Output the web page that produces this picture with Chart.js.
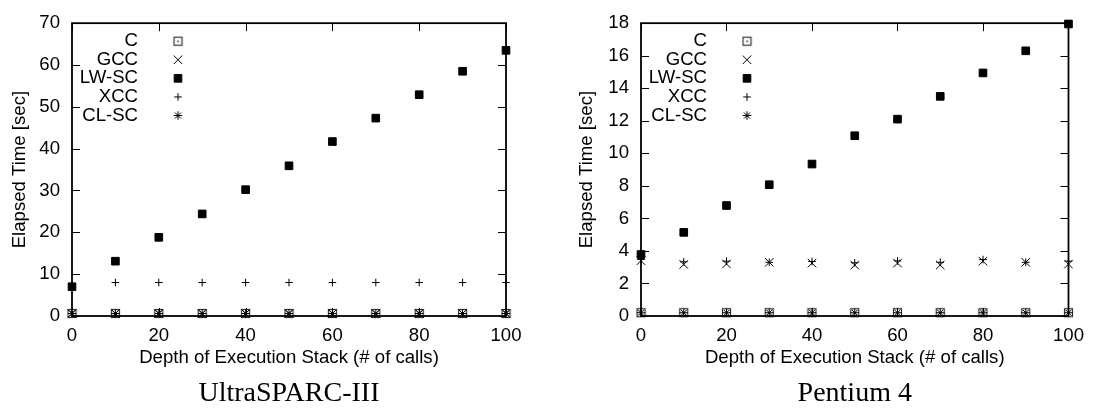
<!DOCTYPE html>
<html><head><meta charset="utf-8">
<script src="https://cdn.jsdelivr.net/npm/chart.js@4/dist/chart.umd.min.js"></script>
<style>
html,body{margin:0;padding:0;background:#fff;}
#wrap{position:relative;width:1093px;height:415px;overflow:hidden;}
#c1{position:absolute;left:0;top:0;}
#c2{position:absolute;left:547px;top:0;}
</style></head><body>
<div id="wrap"><canvas id="c1" width="546" height="415"></canvas><canvas id="c2" width="546" height="415"></canvas></div>
<script>
// ---- data ----
const depths = [0, 10, 20, 30, 40, 50, 60, 70, 80, 90, 100];
const seriesNames = ['C', 'GCC', 'LW-SC', 'XCC', 'CL-SC'];
const xTickStep = 20;

// UltraSPARC-III
const sparcTitle = 'UltraSPARC-III';
const sparcYMax = 70, sparcYStep = 10;
const sparcC    = [0.6, 0.6, 0.6, 0.6, 0.6, 0.6, 0.6, 0.6, 0.6, 0.6, 0.6];
const sparcGCC  = [0.6, 0.6, 0.6, 0.6, 0.6, 0.6, 0.6, 0.6, 0.6, 0.6, 0.6];
const sparcLWSC = [7.0, 13.1, 18.8, 24.4, 30.2, 35.9, 41.7, 47.3, 52.9, 58.5, 63.5];
const sparcXCC  = [7.0, 8.0, 8.0, 8.0, 8.0, 8.0, 8.0, 8.0, 8.0, 8.0, 8.0];
const sparcCLSC = [0.6, 0.6, 0.6, 0.6, 0.6, 0.6, 0.6, 0.6, 0.6, 0.6, 0.6];

// Pentium 4
const p4Title = 'Pentium 4';
const p4YMax = 18, p4YStep = 2;
const p4C    = [0.2, 0.2, 0.2, 0.2, 0.2, 0.2, 0.2, 0.2, 0.2, 0.2, 0.2];
const p4GCC  = [3.4, 3.17, 3.2, 3.3, 3.25, 3.13, 3.25, 3.13, 3.37, 3.3, 3.19];
const p4LWSC = [3.78, 5.14, 6.79, 8.07, 9.34, 11.08, 12.1, 13.5, 14.94, 16.3, 17.95];
const p4XCC  = [3.47, 3.33, 3.37, 3.3, 3.35, 3.27, 3.39, 3.3, 3.47, 3.3, 3.37];
const p4CLSC = [0.2, 0.2, 0.2, 0.2, 0.2, 0.2, 0.2, 0.2, 0.2, 0.2, 0.2];

// ---- styles ----
const SANS = '"Liberation Sans", Arial, sans-serif';
const SERIF = '"Liberation Serif", "Times New Roman", serif';
const FS = 18.6;

function makeBoxDot() {
  const c = document.createElement('canvas');
  c.width = 11; c.height = 11;
  const g = c.getContext('2d');
  g.strokeStyle = '#333'; g.lineWidth = 1.2;
  g.strokeRect(1.5, 1.5, 8, 8);
  g.fillStyle = '#222';
  g.fillRect(4.8, 4.8, 1.6, 1.6);
  return c;
}
const boxDot = makeBoxDot();

const markerStyles = [
  {pointStyle: boxDot, radius: 5, borderWidth: 1, bg: 'rgba(0,0,0,0)'},
  {pointStyle: 'crossRot', radius: 6, borderWidth: 1, bg: 'rgba(0,0,0,0)'},
  {pointStyle: 'rect', radius: 5.4, borderWidth: 1, bg: '#000'},
  {pointStyle: 'cross', radius: 3.8, borderWidth: 1, bg: 'rgba(0,0,0,0)'},
  {pointStyle: 'star', radius: 4.3, borderWidth: 1, bg: 'rgba(0,0,0,0)'}
];

function drawMarker(ctx, st, x, y) {
  if (typeof st.pointStyle !== 'string') {
    ctx.drawImage(st.pointStyle, x - st.pointStyle.width / 2, y - st.pointStyle.height / 2);
    return;
  }
  ctx.save();
  ctx.strokeStyle = '#000'; ctx.fillStyle = st.bg; ctx.lineWidth = st.borderWidth;
  if (Chart.helpers && Chart.helpers.drawPoint) {
    Chart.helpers.drawPoint(ctx, {pointStyle: st.pointStyle, radius: st.radius, borderWidth: st.borderWidth, rotation: 0}, x, y);
  }
  ctx.restore();
}

const framePlugin = {
  id: 'frameTicks',
  afterDraw(chart) {
    const {ctx, chartArea: a, scales} = chart;
    ctx.save();
    ctx.strokeStyle = '#000';
    ctx.lineWidth = 1;
    const TL = 8;
    ctx.beginPath();
    scales.x.ticks.forEach(t => {
      const px = Math.round(scales.x.getPixelForValue(t.value)) + 0.5;
      ctx.moveTo(px, a.bottom); ctx.lineTo(px, a.bottom - TL);
      ctx.moveTo(px, a.top); ctx.lineTo(px, a.top + TL);
    });
    scales.y.ticks.forEach(t => {
      const py = Math.round(scales.y.getPixelForValue(t.value)) + 0.5;
      ctx.moveTo(a.left, py); ctx.lineTo(a.left + TL, py);
      ctx.moveTo(a.right, py); ctx.lineTo(a.right - TL, py);
    });
    ctx.stroke();
    ctx.lineWidth = 1.8;
    ctx.strokeRect(a.left, a.top, a.right - a.left, a.bottom - a.top);
    // legend (gnuplot style: right-aligned label, marker to the right)
    ctx.font = FS + 'px ' + SANS;
    ctx.fillStyle = '#000';
    ctx.textAlign = 'right';
    ctx.textBaseline = 'middle';
    chart.data.datasets.forEach((ds, i) => {
      const y = a.top + 18 + i * 18.6;
      ctx.fillText(ds.label, a.left + 66, y);
      drawMarker(ctx, markerStyles[i], a.left + 106, y);
    });
    ctx.restore();
  }
};

function buildChart(canvas, title, yMax, yStep, series, padRight, yWidth, yTitlePad) {
  const datasets = series.map((vals, i) => ({
    label: seriesNames[i],
    data: depths.map((d, j) => ({x: d, y: vals[j]})),
    showLine: false,
    pointStyle: markerStyles[i].pointStyle,
    pointRadius: markerStyles[i].radius,
    pointBorderWidth: markerStyles[i].borderWidth,
    pointBorderColor: '#000',
    pointBackgroundColor: markerStyles[i].bg,
    borderColor: '#000',
    backgroundColor: markerStyles[i].bg,
    clip: false,
    order: 4 - i
  }));
  return new Chart(canvas, {
    type: 'scatter',
    data: {datasets},
    options: {
      responsive: false,
      animation: false,
      events: [],
      layout: {padding: {left: 0, right: padRight, top: 17, bottom: 0}},
      plugins: {
        legend: {display: false},
        tooltip: {enabled: false},
        title: {
          display: true, text: title, position: 'bottom', fullSize: false,
          color: '#000', font: {family: SERIF, size: 28, weight: 'normal'},
          padding: {top: 0, bottom: 5}
        }
      },
      scales: {
        x: {
          type: 'linear', min: 0, max: 100,
          grid: {display: false, drawTicks: false},
          border: {display: false},
          ticks: {stepSize: xTickStep, padding: 9, color: '#000', maxRotation: 0, font: {family: SANS, size: FS}},
          title: {display: true, text: 'Depth of Execution Stack (# of calls)', color: '#000',
                  font: {family: SANS, size: FS}, padding: {top: 0, bottom: 7}},
          afterFit(s) { s.height = 60.4; }
        },
        y: {
          type: 'linear', min: 0, max: yMax,
          grid: {display: false, drawTicks: false},
          border: {display: false},
          ticks: {stepSize: yStep, padding: 12, color: '#000', font: {family: SANS, size: FS}},
          title: {display: true, text: 'Elapsed Time [sec]', color: '#000',
                  font: {family: SANS, size: FS}, padding: {top: yTitlePad, bottom: 0}},
          afterFit(s) { s.width = yWidth; }
        }
      }
    },
    plugins: [framePlugin]
  });
}

buildChart(document.getElementById('c1'), sparcTitle, sparcYMax, sparcYStep,
  [sparcC, sparcGCC, sparcLWSC, sparcXCC, sparcCLSC], 40, 72, 8.5);
buildChart(document.getElementById('c2'), p4Title, p4YMax, p4YStep,
  [p4C, p4GCC, p4LWSC, p4XCC, p4CLSC], 18, 94, 29);
</script>
</body></html>
